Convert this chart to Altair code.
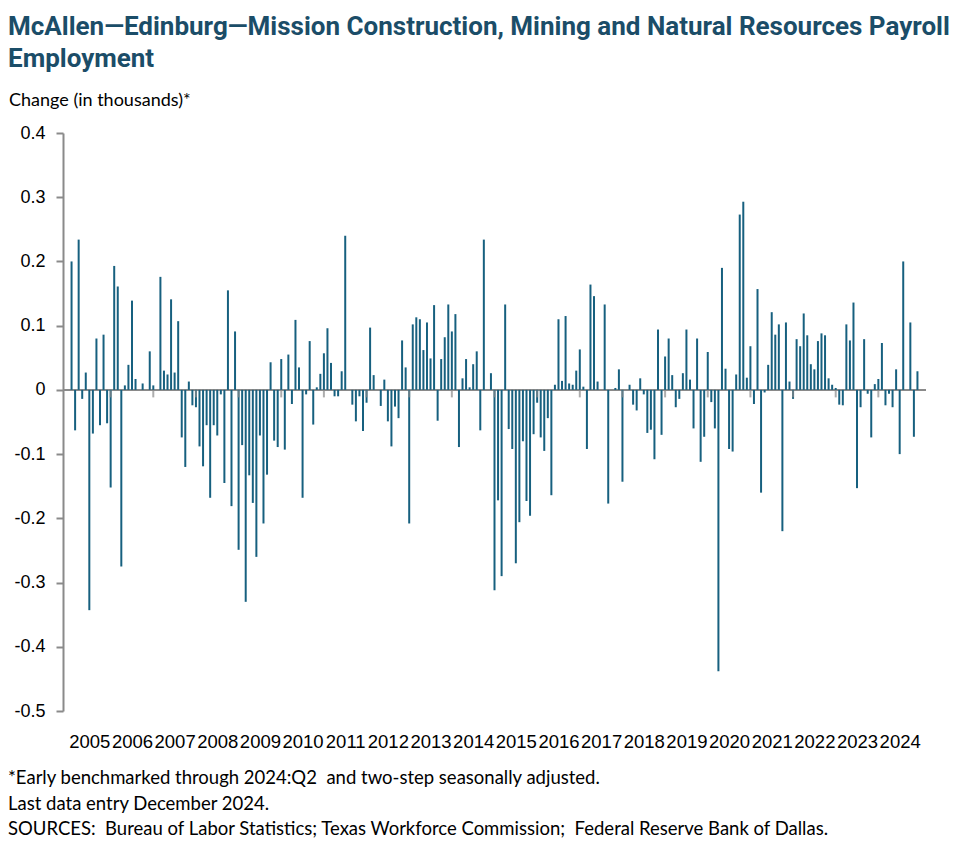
import altair as alt
import pandas as pd

# ---- data ----
years = list(range(2005, 2025))
# monthly change, Feb 2005 .. Dec 2024 (thousands)
changes = [
    0.2, -0.063, 0.234, -0.014, 0.027, -0.343, -0.068, 0.08, -0.055, 0.086, -0.052, -0.152,
    0.193, 0.161, -0.275, 0.007, 0.039, 0.139, 0.017, 0.0, 0.01, 0.0, 0.06, 0.007,
    0.0, 0.176, 0.03, 0.024, 0.141, 0.027, 0.107, -0.074, -0.12, 0.013, -0.024, -0.027,
    -0.088, -0.119, -0.055, -0.168, -0.055, -0.071, -0.007, -0.145, 0.155, -0.181, 0.091, -0.249,
    -0.086, -0.33, -0.133, -0.176, -0.26, -0.071, -0.208, -0.132, 0.043, -0.079, -0.089, 0.048,
    -0.093, 0.055, -0.022, 0.109, 0.035, -0.168, -0.007, 0.076, -0.054, 0.004, 0.025, 0.057,
    0.096, 0.042, -0.01, -0.01, 0.029, 0.24, 0.0, -0.023, -0.049, -0.01, -0.064, -0.02,
    0.097, 0.023, 0.0, -0.025, 0.016, -0.049, -0.088, -0.026, -0.044, 0.077, 0.035, -0.208,
    0.102, 0.113, 0.11, 0.062, 0.105, 0.049, 0.132, -0.048, 0.048, 0.082, 0.133, 0.091,
    0.118, -0.089, 0.018, 0.048, 0.004, 0.04, 0.06, -0.063, 0.234, 0.0, 0.026, -0.312,
    -0.172, -0.29, 0.133, -0.061, -0.092, -0.27, -0.206, -0.08, -0.173, -0.196, -0.069, -0.02,
    -0.074, -0.095, -0.044, -0.164, 0.008, 0.11, 0.014, 0.115, 0.01, 0.008, 0.03, 0.063,
    0.005, -0.092, 0.164, 0.146, 0.013, 0.0, 0.133, -0.177, 0.0, 0.003, 0.032, -0.143,
    0.0, 0.008, -0.023, -0.032, 0.018, -0.007, -0.067, -0.062, -0.108, 0.094, -0.07, 0.052,
    0.08, 0.023, -0.027, -0.014, 0.026, 0.094, 0.016, -0.06, 0.08, -0.112, -0.073, 0.059,
    -0.019, -0.06, -0.438, 0.19, 0.033, -0.092, -0.096, 0.024, 0.273, 0.293, 0.019, 0.068,
    -0.022, 0.157, -0.16, -0.004, 0.039, 0.121, 0.086, 0.102, -0.22, 0.105, 0.013, -0.014,
    0.079, 0.068, 0.119, 0.085, 0.04, 0.032, 0.076, 0.088, 0.085, 0.018, 0.008, 0.003,
    -0.023, -0.024, 0.102, 0.077, 0.136, -0.153, -0.027, 0.079, -0.006, -0.074, 0.009, 0.017,
    0.073, -0.024, -0.006, -0.027, 0.032, -0.1, 0.2, 0.0, 0.105, -0.073, 0.029,
]
y_ticks = [-0.5, -0.4, -0.3, -0.2, -0.1, 0.0, 0.1, 0.2, 0.3, 0.4]

NB = "\u00a0"
title_lines = [
    "McAllen\u2014Edinburg\u2014Mission Construction, Mining and Natural Resources Payroll",
    "Employment",
]
subtitle = "Change (in thousands)*"
notes = [
    "*Early benchmarked through 2024:Q2" + NB + " and two-step seasonally adjusted.",
    "Last data entry December 2024.",
    "SOURCES:" + NB + " Bureau of Labor Statistics; Texas Workforce Commission;" + NB
    + " Federal Reserve Bank of Dallas.",
]

BAR = "#17607f"
TITLE = "#1b4d68"
GRAY = "#8a8a8a"
AXFONT = "Liberation Sans"
TXTFONT = "Lato"

df = pd.DataFrame({"pos": list(range(1, len(changes) + 1)), "change": changes})
tick_df = pd.DataFrame({"pos": [12 * (k + 1) for k in range(len(years) - 1)]})

W, H = 863, 578
x_scale = alt.Scale(domain=[0, 12 * len(years)], nice=False, zero=False)
y_scale = alt.Scale(domain=[-0.5, 0.4], nice=False)

bars = alt.Chart(df).mark_bar(size=2, color=BAR).encode(
    x=alt.X(
        "pos:Q",
        scale=x_scale,
        axis=alt.Axis(
            values=[6 + 12 * k for k in range(len(years))],
            labelExpr="toString(2005 + floor(datum.value / 12))",
            title=None, domain=False, ticks=False, grid=False,
            labelFont=AXFONT, labelFontSize=18.5, labelColor="#000",
            labelPadding=21, labelAngle=0,
        ),
    ),
    y=alt.Y(
        "change:Q",
        scale=y_scale,
        stack=None,
        axis=alt.Axis(
            values=y_ticks,
            labelExpr="datum.value == 0 ? '0' : toString(round(datum.value * 10) / 10)",
            title=None, grid=False,
            domainColor=GRAY, domainWidth=2,
            tickColor=GRAY, tickWidth=2, tickSize=7,
            labelFont=AXFONT, labelFontSize=18, labelColor="#000", labelPadding=11,
        ),
    ),
)

zero = alt.Chart(df).mark_rule(color=GRAY, strokeWidth=2).encode(y=alt.datum(0))

year_ticks = alt.Chart(tick_df).mark_tick(
    orient="vertical", size=7, thickness=2, yOffset=4, color=GRAY
).encode(x=alt.X("pos:Q", scale=x_scale), y=alt.datum(0))


def label(text, x, y, size, color="#000", weight="normal", font=TXTFONT):
    return alt.Chart(pd.DataFrame({"t": [text]})).mark_text(
        align="left", baseline="alphabetic", font=font, fontSize=size,
        fontWeight=weight, color=color,
    ).encode(text="t:N", x=alt.value(x), y=alt.value(y))


texts = [
    label(title_lines[0], -55, -98, 26, TITLE, "bold", "Roboto"),
    label(title_lines[1], -55, -66, 26, TITLE, "bold", "Roboto"),
    label(subtitle, -54, -27, 18),
]
for i, n in enumerate(notes):
    texts.append(label(n, -55, 651 + 25.5 * i, 18.5))

chart = alt.layer(zero, bars, year_ticks, *texts).properties(
    width=W, height=H,
    autosize=alt.AutoSizeParams(type="none"),
    padding={"left": 55, "top": 125, "right": 43, "bottom": 145},
).configure_view(stroke=None)

chart.save("out.html", embed_options={"renderer": "svg", "actions": False})
